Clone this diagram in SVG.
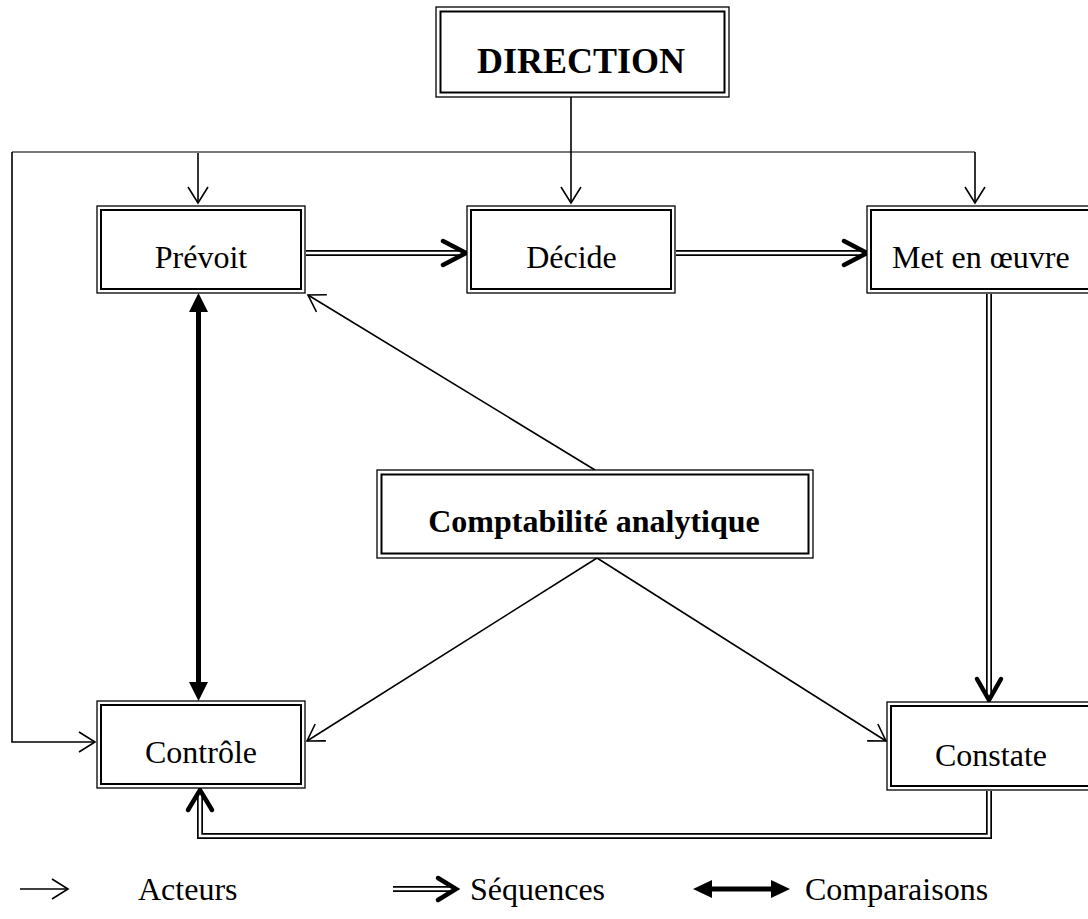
<svg xmlns="http://www.w3.org/2000/svg" width="1088" height="919" viewBox="0 0 1088 919">
<style>
  .bo{fill:#fff;stroke:#000;stroke-width:1.3}
  .bi{fill:none;stroke:#000;stroke-width:2}
  .t{font-family:"Liberation Serif","Times New Roman",serif;font-size:32px;fill:#000}
  .tb{font-family:"Liberation Serif","Times New Roman",serif;font-weight:bold;fill:#000}
  .act{fill:none;stroke:#000;stroke-width:1.6}
  .grey{fill:none;stroke:#7a7a7a;stroke-width:2}
  .dblk{fill:none;stroke:#000;stroke-width:6;stroke-linejoin:miter}
  .dwht{fill:none;stroke:#fff;stroke-width:2.6;stroke-linejoin:miter}
  .chev{fill:none;stroke:#000;stroke-width:4.5;stroke-linecap:round;stroke-linejoin:miter}
  .cmp{fill:none;stroke:#000;stroke-width:5}
  .tri{fill:#000;stroke:none}
</style>
<defs>
  <marker id="open" markerUnits="userSpaceOnUse" markerWidth="24" markerHeight="24" viewBox="-20 -12 24 24" refX="0" refY="0" orient="auto">
    <path d="M-16,-10 L0,0 L-16,10" fill="none" stroke="#000" stroke-width="1.6"/>
  </marker>
</defs>

<g id="connectors">
  <!-- acteurs -->
  <path class="grey" d="M12,152 H975"/>
  <path class="act" d="M12,152 V742 H95" marker-end="url(#open)"/>
  <path class="act" d="M198,153 V203" marker-end="url(#open)"/>
  <path class="act" d="M571,97 V203" marker-end="url(#open)"/>
  <path class="act" d="M975,152 V203" marker-end="url(#open)"/>
  <path class="act" d="M595,470 L308,295" marker-end="url(#open)"/>
  <path class="act" d="M597,558 L307,741" marker-end="url(#open)"/>
  <path class="act" d="M597,558 L886,741" marker-end="url(#open)"/>
  <!-- sequences -->
  <path class="dblk" d="M306,253 H461"/>
  <path class="dwht" d="M306,253 H461"/>
  <path class="chev" d="M443,241 L466,253 L443,265"/>
  <path class="dblk" d="M676,253 H862"/>
  <path class="dwht" d="M676,253 H862"/>
  <path class="chev" d="M844,241 L867,253 L844,265"/>
  <path class="dblk" d="M989,294 V695"/>
  <path class="dwht" d="M989,294 V695"/>
  <path class="chev" d="M977,679 L989,700 L1001,679"/>
  <path class="dblk" d="M989,791 V836 H200 V794"/>
  <path class="dwht" d="M989,791 V836 H200 V794"/>
  <path class="chev" d="M188,810 L200,790 L212,810"/>
  <!-- comparaison -->
  <path class="cmp" d="M198.5,310 V684"/>
  <path class="tri" d="M189,312 L198.5,293 L208,312 Z"/>
  <path class="tri" d="M189,682 L198.5,701 L208,682 Z"/>
</g>

<g id="direction">
  <rect class="bo" x="436" y="7" width="293" height="90"/>
  <rect class="bi" x="440.5" y="11.5" width="284" height="81"/>
  <text class="tb" x="581" y="73" font-size="36" text-anchor="middle">DIRECTION</text>
</g>
<g id="prevoit">
  <rect class="bo" x="97" y="206" width="208" height="87"/>
  <rect class="bi" x="101" y="210" width="200" height="79"/>
  <text class="t" x="201" y="268" text-anchor="middle">Prévoit</text>
</g>
<g id="decide">
  <rect class="bo" x="467" y="206" width="208" height="87"/>
  <rect class="bi" x="471" y="210" width="200" height="79"/>
  <text class="t" x="571.5" y="268" text-anchor="middle">Décide</text>
</g>
<g id="met-en-oeuvre">
  <rect class="bo" x="867" y="206" width="240" height="87"/>
  <rect class="bi" x="871" y="210" width="240" height="79"/>
  <text class="t" x="892" y="268">Met en œuvre</text>
</g>
<g id="comptabilite">
  <rect class="bo" x="377" y="470" width="436" height="88"/>
  <rect class="bi" x="381.5" y="474.5" width="427" height="79"/>
  <text class="tb" x="594" y="532" font-size="32" text-anchor="middle">Comptabilité analytique</text>
</g>
<g id="controle">
  <rect class="bo" x="97" y="701" width="208" height="87"/>
  <rect class="bi" x="101" y="705" width="200" height="79"/>
  <text class="t" x="201" y="763" text-anchor="middle">Contrôle</text>
</g>
<g id="constate">
  <rect class="bo" x="887" y="702" width="240" height="88"/>
  <rect class="bi" x="891" y="706" width="240" height="80"/>
  <text class="t" x="935" y="766">Constate</text>
</g>

<g id="legend">
  <path class="act" d="M20,889 H68" marker-end="url(#open)"/>
  <text class="t" x="138" y="900" font-size="31">Acteurs</text>
  <path class="dblk" d="M393,889 H450"/>
  <path class="dwht" d="M393,889 H450"/>
  <path class="chev" d="M438,878 L456,889 L438,900"/>
  <text class="t" x="470" y="900" font-size="31">Séquences</text>
  <path class="cmp" d="M710,889 H773"/>
  <path class="tri" d="M712,880 L693,889 L712,898 Z"/>
  <path class="tri" d="M771,880 L790,889 L771,898 Z"/>
  <text class="t" x="805" y="900" font-size="31">Comparaisons</text>
</g>
</svg>
